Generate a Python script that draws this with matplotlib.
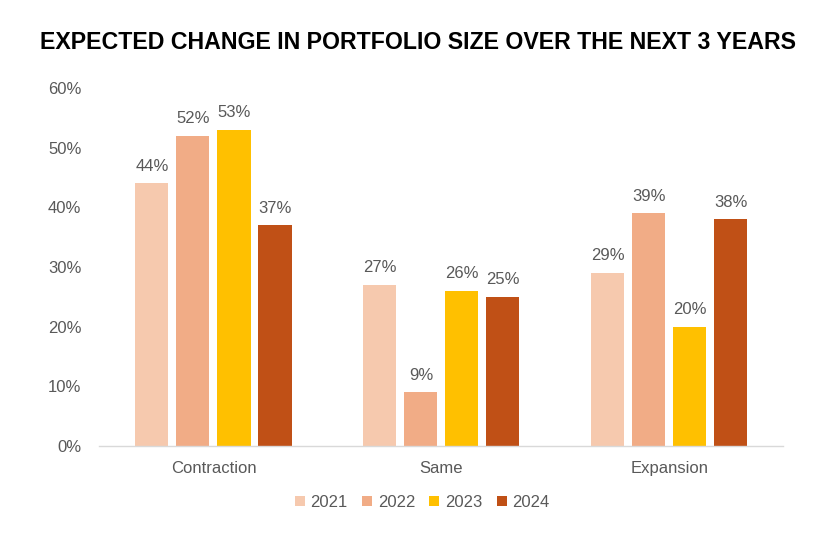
import numpy as np
import matplotlib
matplotlib.use("Agg")
import matplotlib.pyplot as plt

plt.rcParams['font.family'] = ['Liberation Sans', 'DejaVu Sans']

categories = ["Contraction", "Same", "Expansion"]
years = ["2021", "2022", "2023", "2024"]
v2021 = [44, 27, 29]
v2022 = [52, 9, 39]
v2023 = [53, 26, 20]
v2024 = [37, 25, 38]
series = [v2021, v2022, v2023, v2024]
colors = ["#F6C9AE", "#F1AC86", "#FFC000", "#C05016"]

fig = plt.figure(figsize=(8.36, 5.42), dpi=100)
ax = fig.add_axes([0.119, 0.177, 0.818, 0.661])

x = np.arange(len(categories))
w = 0.145
step = 0.18
grey = "#595959"
for i, (vals, c) in enumerate(zip(series, colors)):
    pos = x + (i - 1.5) * step
    ax.bar(pos, vals, width=w, color=c, label=years[i], zorder=2)
    for p, v in zip(pos, vals):
        ax.text(p, v + 1.6, f"{v}%", ha='center', va='bottom', fontsize=12, color=grey)

ax.set_xlim(-0.5, 2.5)
ax.set_ylim(0, 60)
ax.set_yticks(range(0, 61, 10))
ax.set_yticklabels([f"{t}%" for t in range(0, 61, 10)])
ax.set_xticks(x)
ax.set_xticklabels(categories)
ax.tick_params(axis='both', length=0, labelsize=12, colors=grey)
ax.tick_params(axis='x', pad=11)
ax.tick_params(axis='y', pad=13)
for s in ['top', 'right', 'left']:
    ax.spines[s].set_visible(False)
ax.spines['bottom'].set_color("#D9D9D9")
ax.spines['bottom'].set_linewidth(1.0)

fig.suptitle("EXPECTED CHANGE IN PORTFOLIO SIZE OVER THE NEXT 3 YEARS",
             x=0.5, y=0.943, fontsize=16.7, fontweight='bold', color='black')

leg = fig.legend(loc='center', bbox_to_anchor=(0.505, 0.073), ncol=4, frameon=False,
                 handlelength=0.6, handleheight=0.6, handletextpad=0.35, columnspacing=0.85,
                 fontsize=12)
for t in leg.get_texts():
    t.set_color(grey)

fig.savefig("out.png", dpi=100)
